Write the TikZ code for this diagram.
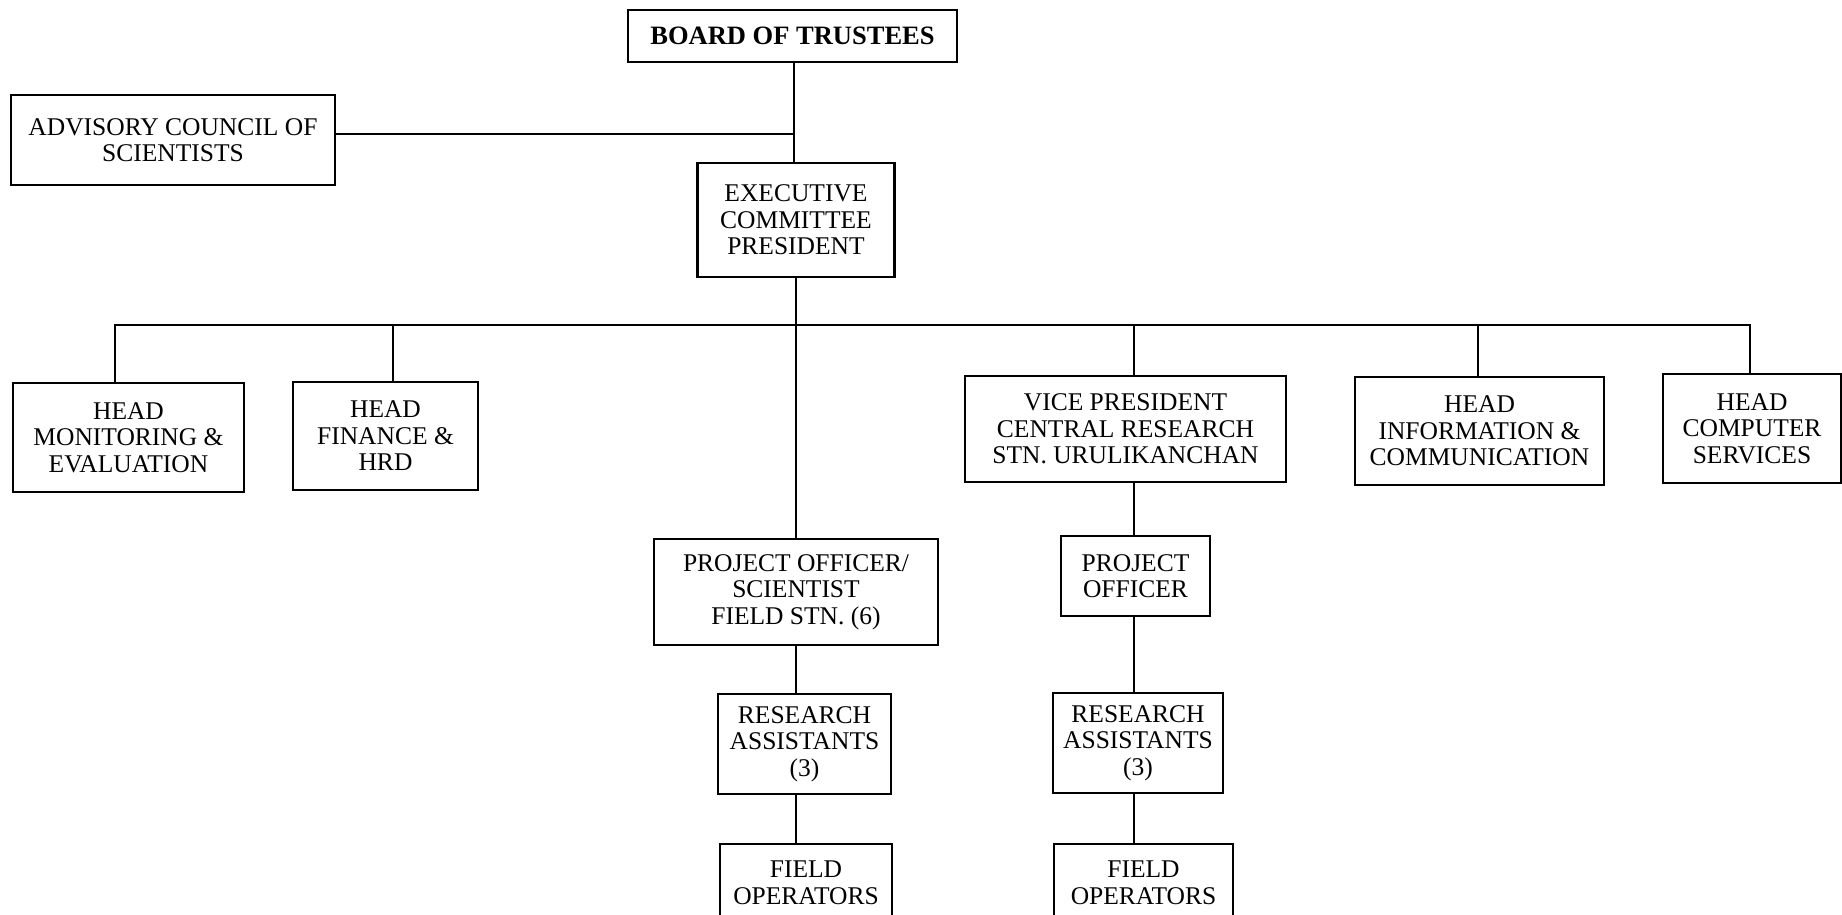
\documentclass[tikz,border=0pt]{standalone}
\usepackage{fontspec}
\setmainfont{Liberation Serif}
\begin{document}
\begin{tikzpicture}[x=1pt,y=-1pt,
  box/.style={draw=black,line width=2.8pt,align=center,inner sep=0pt,
    font=\fontsize{25.5}{26.5}\selectfont},
  conn/.style={line width=2.5pt}]
\useasboundingbox (0,0) rectangle (1842,915);
\node[box,minimum width=329,minimum height=52,font=\fontsize{26.5}{27}\selectfont\bfseries] (board) at (792.5,36) {BOARD OF TRUSTEES};
\node[box,minimum width=324,minimum height=90] (adv) at (173,140) {ADVISORY COUNCIL OF\\SCIENTISTS};
\node[box,minimum width=197,minimum height=114] (exec) at (796,220) {EXECUTIVE\\COMMITTEE\\PRESIDENT};
\node[box,minimum width=231,minimum height=109] (mon) at (128.5,437.5) {HEAD\\MONITORING \&\\EVALUATION};
\node[box,minimum width=185,minimum height=108] (fin) at (385.5,436) {HEAD\\FINANCE \&\\HRD};
\node[box,minimum width=321,minimum height=106] (vp) at (1125.5,429) {VICE PRESIDENT\\CENTRAL RESEARCH\\STN. URULIKANCHAN};
\node[box,minimum width=249,minimum height=108] (info) at (1479.5,431) {HEAD\\INFORMATION \&\\COMMUNICATION};
\node[box,minimum width=178,minimum height=109] (comp) at (1752,428.5) {HEAD\\COMPUTER\\SERVICES};
\node[box,minimum width=284,minimum height=106] (pos) at (796,592) {PROJECT OFFICER/\\SCIENTIST\\FIELD STN. (6)};
\node[box,minimum width=173,minimum height=100] (ra1) at (804.5,744) {RESEARCH\\ASSISTANTS\\(3)};
\node[box,minimum width=172,minimum height=78] (fo1) at (806,883) {FIELD\\OPERATORS};
\node[box,minimum width=149,minimum height=80] (po2) at (1135.5,576) {PROJECT\\OFFICER};
\node[box,minimum width=170,minimum height=100] (ra2) at (1138,743) {RESEARCH\\ASSISTANTS\\(3)};
\node[box,minimum width=179,minimum height=78] (fo2) at (1143.5,883) {FIELD\\OPERATORS};
% junctions
\coordinate (jadv) at (794,134);
\coordinate (bl) at (115,325);
\coordinate (bfin) at (393,325);
\coordinate (bvp) at (1134,325);
\coordinate (binfo) at (1478,325);
\coordinate (br) at (1750,325);
% connectors
\draw[conn] (board.south -| jadv) -- (exec.north -| jadv);
\draw[conn] (adv.east |- jadv) -- (jadv);
\draw[conn] (exec.south) -- (pos.north -| exec.south);
\draw[conn] (mon.north -| bl) -- (bl) -- (br) -- (comp.north -| br);
\draw[conn] (bfin) -- (fin.north -| bfin);
\draw[conn] (bvp) -- (vp.north -| bvp);
\draw[conn] (binfo) -- (info.north -| binfo);
\draw[conn] (pos.south) -- (ra1.north -| pos.south);
\draw[conn] (ra1.south -| pos.south) -- (fo1.north -| pos.south);
\draw[conn] (vp.south -| bvp) -- (po2.north -| bvp);
\draw[conn] (po2.south -| bvp) -- (ra2.north -| bvp);
\draw[conn] (ra2.south -| bvp) -- (fo2.north -| bvp);
\end{tikzpicture}
\end{document}
